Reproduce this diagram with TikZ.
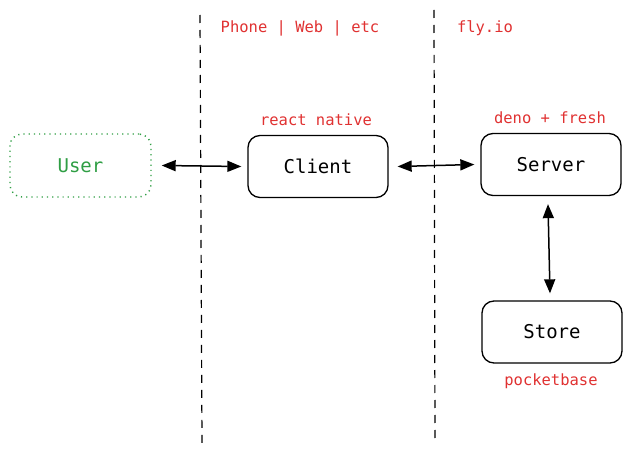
\documentclass[tikz,border=0pt]{standalone}
\usepackage{fontspec}
\setmonofont{DejaVu Sans Mono}
\usetikzlibrary{arrows.meta}
\definecolor{lred}{HTML}{E03131}
\definecolor{lgreen}{HTML}{2F9E44}
\tikzset{
  box/.style={draw=black, line width=1.3pt, rounded corners=12pt, minimum width=140pt, minimum height=62pt, font=\ttfamily\fontsize{19}{22}\selectfont, inner sep=0pt},
  userbox/.style={draw=lgreen, line width=1.4pt, dash pattern=on 1.2pt off 4pt, rounded corners=12pt, minimum width=141pt, minimum height=63pt, font=\ttfamily\fontsize{19}{22}\selectfont, text=lgreen, inner sep=0pt},
  lbl/.style={text=lred, font=\ttfamily\fontsize{15.5}{18}\selectfont, inner sep=0pt},
  sep/.style={draw=black, line width=1.2pt, dash pattern=on 8pt off 7pt},
  link/.style={draw=black, line width=1.5pt, {Triangle[length=14pt,width=11pt]}-{Triangle[length=14pt,width=11pt]}}
}
\begin{document}
\begin{tikzpicture}[x=1pt,y=-1pt]
\useasboundingbox (0,0) rectangle (633,452);
\coordinate (d1a) at (200,15);
\coordinate (d1b) at (202,443);
\coordinate (d2a) at (434,10);
\coordinate (d2b) at (435,440);
\draw[sep] (d1a) -- (d1b);
\draw[sep] (d2a) -- (d2b);
\node[userbox] (user) at (80.5,165.5) {User};
\node[box] (client) at (318,166.5) {Client};
\node[box] (server) at (551,164.5) {Server};
\node[box] (store) at (552,332) {Store};
\node[lbl] (lrn) at (316,120) {react native};
\node[lbl] (ldf) at (550,118) {deno + fresh};
\node[lbl] (lpb) at (551,381) {pocketbase};
\node[lbl] (lphone) at (300,28) {Phone | Web | etc};
\node[lbl] (lfly) at (485,28) {fly.io};
\draw[link] ([xshift=10pt]user.east) -- ([xshift=-6pt]client.west);
\draw[link] ([xshift=9pt]client.east) -- ([xshift=-6pt]server.west);
\draw[link] ([yshift=-8pt,xshift=-3pt]server.south) -- ([yshift=7pt,xshift=-2pt]store.north);
\end{tikzpicture}
\end{document}
